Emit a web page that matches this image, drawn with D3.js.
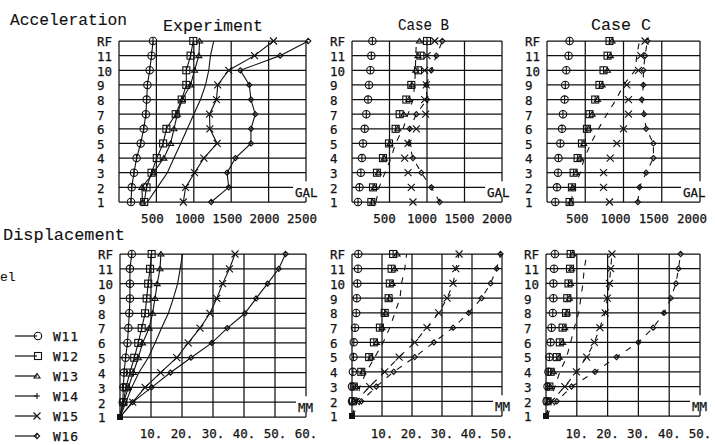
<!DOCTYPE html>
<html>
<head>
<meta charset="utf-8">
<script src="https://cdnjs.cloudflare.com/ajax/libs/d3/7.8.5/d3.min.js"></script>
<style>
body{margin:0;background:#fff;}
svg{display:block;}
text{fill:#111;}
</style>
</head>
<body>
<div id="chart"></div>
<script>
var levelLabels = ["1","2","3","4","5","6","7","8","9","10","11","RF"];
var seriesNames = ["W11","W12","W13","W14","W15","W16"];
var seriesMarks = ["circle","square","triangle","plus","cross","diamond"];

var accTicksExp  = [500,1000,1500,2000,2500];
var accTicksCase = [500,1000,1500,2000];
var dispTicksExp  = [10,20,30,40,50,60];
var dispTicksCase = [10,20,30,40,50];

// acceleration, GAL  (rows W11..W16, columns floor 1..RF)
var accExp = [
  [160,170,200,235,290,330,360,370,380,410,435,455],
  [337,368,435,505,590,634,758,838,900,900,957,993],
  [315,305,461,600,690,735,780,846,957,1010,1068,1077],
  [380,513,646,735,825,913,1000,1090,1157,1200,1223,1267],
  [860,890,1010,1135,1312,1215,1210,1303,1320,1467,1812,2065],
  [1232,1467,1445,1556,1764,1764,1822,1764,1742,1622,2154,2530]
];
var accB = [
  [80,100,118,132,147,169,191,214,227,245,258,272],
  [258,280,333,413,493,582,636,724,791,880,911,1000],
  [275,300,350,430,505,610,690,760,800,850,880,900],
  [320,360,440,520,580,680,747,813,836,845,850,858],
  [813,791,747,702,747,858,982,969,991,969,1000,1103],
  [1169,1058,924,813,760,769,858,1000,991,1058,1125,1205]
];
var accC = [
  [108,130,145,150,174,196,209,230,239,252,282,295],
  [295,326,348,400,457,522,556,630,686,739,791,817],
  [310,335,380,430,480,545,590,660,720,790,830,850],
  [313,356,435,487,574,673,783,904,1000,1152,1174,1208],
  [817,739,739,826,913,1000,1065,1065,1043,1195,1226,1282],
  [1187,1208,1296,1391,1391,1296,1269,1239,1260,1260,1282,1312]
];

// displacement, MM
var dispExp = [
  [0,0.9,1.1,1.3,1.8,2.4,2.7,3.0,3.2,3.2,3.2,3.8],
  [0,1.1,1.9,3.2,4.6,5.9,7.0,8.1,8.6,9.1,9.7,10.2],
  [0,1.2,2.7,4.3,5.9,7.3,9.4,10.5,11.3,12.0,12.9,13.2],
  [0,1.9,3.8,6.1,9.1,11.3,13.4,15.6,17.2,18.6,19.4,20.2],
  [0,4.1,8.1,13.1,18.3,22.0,25.8,29.0,31.2,33.1,35.3,37.1],
  [0,4.1,10.2,16.3,22.9,29.6,34.6,40.3,43.9,47.6,51.2,53.4]
];
var dispB = [
  [0,0,0,0.3,0.5,0.6,1.0,1.4,1.6,1.8,2.0,2.1],
  [0,0.3,0.6,3.1,5.7,7.3,9.3,10.9,12.2,12.6,13.2,13.7],
  [0,0.5,1.4,3.6,6.4,8.2,10.0,11.2,12.5,13.4,14.2,15.0],
  [0,1.7,2.6,4.8,7.6,10.4,12.6,14.3,16.0,16.5,17.6,18.2],
  [0,1.4,5.9,10.9,15.7,20.9,25.0,28.9,31.7,33.7,34.6,35.7],
  [0,3.1,8.1,13.9,20.9,27.3,33.7,38.9,43.2,46.2,48.2,49.5]
];
var dispC = [
  [0,0.2,0.5,0.8,1.1,1.5,1.8,2.2,2.4,2.4,2.6,2.9],
  [0,0.5,1.1,1.5,3.5,4.5,5.4,6.5,6.9,7.3,7.8,8.0],
  [0,0.8,1.3,2.4,4.3,5.4,6.1,6.9,7.6,8.0,8.3,8.7],
  [0,1.3,2.9,4.5,6.7,8.0,9.2,10.6,11.3,12.0,12.4,13.3],
  [0,1.8,6.1,9.9,13.2,15.7,17.5,19.2,19.9,20.6,21.0,21.4],
  [0,3.5,8.3,15.9,22.9,30.0,34.8,38.3,40.5,42.2,43.0,43.7]
];

var width = 715, height = 445;
var ink = "#111";
var mono = "'DejaVu Sans Mono', monospace";
var type = "'Liberation Mono', 'Courier New', monospace";

var svg = d3.select("#chart").append("svg")
  .attr("width", width)
  .attr("height", height);

var panels = [
  {data: accExp, ticks: accTicksExp, max: 2500, x0: 119, x1: 306, top: 41, bottom: 202, unit: "GAL", unitDx: -11, lab: -4, tickY: 223, exp: true, disp: false},
  {data: accB, ticks: accTicksCase, max: 2000, x0: 352, x1: 502, top: 41, bottom: 202, unit: "GAL", unitDx: -15, lab: -5, tickY: 223, exp: false, disp: false},
  {data: accC, ticks: accTicksCase, max: 2000, x0: 547, x1: 700, top: 41, bottom: 202, unit: "GAL", unitDx: -17, lab: -8, tickY: 223, exp: false, disp: false},
  {data: dispExp, ticks: dispTicksExp, max: 60, x0: 120, x1: 306, top: 254, bottom: 417, unit: "MM", unitDx: -8, lab: 0, tickY: 438, exp: true, disp: true},
  {data: dispB, ticks: dispTicksCase, max: 50, x0: 352, x1: 502, top: 254, bottom: 416, unit: "MM", unitDx: -7, lab: 0, tickY: 438, exp: false, disp: true},
  {data: dispC, ticks: dispTicksCase, max: 50, x0: 546, x1: 700, top: 254, bottom: 416, unit: "MM", unitDx: -8, lab: 0, tickY: 438, exp: false, disp: true}
];

var drawMark = function(g, kind, cx, cy) {
  var m = g.append("g")
    .attr("transform", "translate(" + cx + "," + cy + ")")
    .attr("fill", "none")
    .attr("stroke", ink)
    .attr("stroke-width", 1.1);
  if (kind == "circle") {
    m.append("circle").attr("r", 3.7);
    m.append("path").attr("d", "M0,-3.7V3.7");
  } else if (kind == "square") {
    m.append("rect").attr("x", -3.5).attr("y", -3.5).attr("width", 7).attr("height", 7);
    m.append("path").attr("d", "M0,-3.5V3.5");
  } else if (kind == "triangle") {
    m.append("path").attr("d", "M-3,2L3,2L0,-2.5Z");
  } else if (kind == "plus") {
    m.append("path").attr("d", "M-3,0H3M0,-3V3");
  } else if (kind == "cross") {
    m.append("path").attr("d", "M-3.5,-3.5L3.5,3.5M-3.5,3.5L3.5,-3.5");
  } else {
    m.append("path").attr("d", "M0,-2.6L2.6,0L0,2.6L-2.6,0Z");
  }
};

var drawPanel = function(p) {
  var x = d3.scaleLinear().domain([0, p.max]).range([p.x0, p.x1]);
  var y = d3.scaleLinear().domain([1, 12]).range([p.bottom, p.top]);
  var g = svg.append("g");
  var grid = g.append("g").attr("stroke", ink).attr("stroke-width", 1.25).attr("fill", "none");

  // horizontal floor lines, floor 2 stops short for the unit label
  levelLabels.forEach(function(l, i) {
    var lv = i + 1;
    var xe = (lv == 2) ? p.x1 + p.unitDx - 2 : p.x1;
    grid.append("line")
      .attr("x1", p.x0).attr("x2", xe)
      .attr("y1", y(lv)).attr("y2", y(lv));
  });

  // vertical lines
  grid.append("line").attr("x1", p.x0).attr("x2", p.x0).attr("y1", p.top).attr("y2", p.bottom);
  p.ticks.forEach(function(t) {
    if (t == p.max) {
      grid.append("line").attr("x1", x(t)).attr("x2", x(t)).attr("y1", p.top).attr("y2", y(2) - 6);
      grid.append("line").attr("x1", x(t)).attr("x2", x(t)).attr("y1", p.bottom - 5).attr("y2", p.bottom);
    } else {
      grid.append("line").attr("x1", x(t)).attr("x2", x(t)).attr("y1", p.top).attr("y2", p.bottom);
    }
  });

  // tick labels
  g.selectAll(".xt").data(p.ticks).enter().append("text")
    .attr("x", function(d) { return x(d) + p.lab; })
    .attr("y", p.tickY)
    .attr("text-anchor", "middle")
    .style("font-family", mono)
    .style("font-size", "12.5px")
    .style("stroke", ink).style("stroke-width", 0.25)
    .text(function(d) { return p.disp ? d + "." : d; });

  g.selectAll(".yt").data(levelLabels).enter().append("text")
    .attr("x", p.x0 - 22)
    .attr("y", function(d, i) { return y(i + 1) + 1; })
    .attr("dy", "0.35em")
    .style("font-family", mono)
    .style("font-size", "12.5px")
    .style("stroke", ink).style("stroke-width", 0.25)
    .text(function(d) { return d; });

  g.append("text")
    .attr("x", p.x1 + p.unitDx)
    .attr("y", y(2) + 10)
    .style("font-family", mono)
    .style("font-size", "12.5px")
    .style("stroke", ink).style("stroke-width", 0.25)
    .text(p.unit);

  // series
  var line = d3.line()
    .x(function(d) { return x(d); })
    .y(function(d, i) { return y(i + 1); });

  p.data.forEach(function(vals, s) {
    var kind = seriesMarks[s];
    // experiment: all solid; cases: W14, W16 dashed (W15 too for displacement)
    var withLine = p.exp || s == 3 || s == 5 || (s == 4 && p.disp);
    if (withLine) {
      g.append("path")
        .attr("d", line(vals))
        .attr("fill", "none")
        .attr("stroke", ink)
        .attr("stroke-width", 1.1)
        .attr("stroke-dasharray", p.exp ? null : "6,7");
    }
    if (kind == "plus") return;
    vals.forEach(function(v, i) {
      if (p.disp && i == 0) return;
      drawMark(g, kind, x(v), y(i + 1));
    });
  });

  if (p.disp) {
    g.append("rect")
      .attr("x", p.x0 - 3).attr("y", p.bottom - 3)
      .attr("width", 6).attr("height", 6)
      .attr("fill", ink);
  }
};

panels.forEach(drawPanel);

// titles
var titles = [
  {t: "Acceleration", x: 10, y: 25, w: 117},
  {t: "Experiment", x: 163, y: 31, w: 100},
  {t: "Case B", x: 398, y: 30, w: 51},
  {t: "Case C", x: 591, y: 30, w: 60},
  {t: "Displacement", x: 3, y: 240, w: 122}
];
titles.forEach(function(d) {
  svg.append("text")
    .attr("x", d.x).attr("y", d.y)
    .attr("textLength", d.w)
    .attr("lengthAdjust", "spacingAndGlyphs")
    .style("font-family", type)
    .style("font-size", "16.5px")
    .style("stroke", ink).style("stroke-width", 0.12)
    .text(d.t);
});

// tail of a label cut by the page edge in the scan
svg.append("text")
  .attr("x", 0).attr("y", 281)
  .style("font-family", type)
  .style("font-size", "13px")
  .style("stroke", ink).style("stroke-width", 0.12)
  .text("el");

// legend
var legY = [336, 356, 376, 396, 416, 436];
seriesNames.forEach(function(n, i) {
  svg.append("line")
    .attr("x1", 15).attr("x2", 37)
    .attr("y1", legY[i]).attr("y2", legY[i])
    .attr("stroke", ink).attr("stroke-width", 1.2);
  if (seriesMarks[i] == "circle" || seriesMarks[i] == "square") {
    var m = svg.append("g").attr("fill", "none").attr("stroke", ink).attr("stroke-width", 1.1);
    if (seriesMarks[i] == "circle") m.append("circle").attr("cx", 38).attr("cy", legY[i]).attr("r", 3.7);
    else m.append("rect").attr("x", 34.5).attr("y", legY[i] - 3.5).attr("width", 7).attr("height", 7);
  } else {
    drawMark(svg, seriesMarks[i], 37, legY[i]);
  }
  svg.append("text")
    .attr("x", 53).attr("y", legY[i])
    .attr("dy", "0.35em")
    .attr("textLength", 25)
    .style("font-family", mono)
    .style("font-size", "13px")
    .style("stroke", ink).style("stroke-width", 0.25)
    .text(n);
});
</script>
</body>
</html>
